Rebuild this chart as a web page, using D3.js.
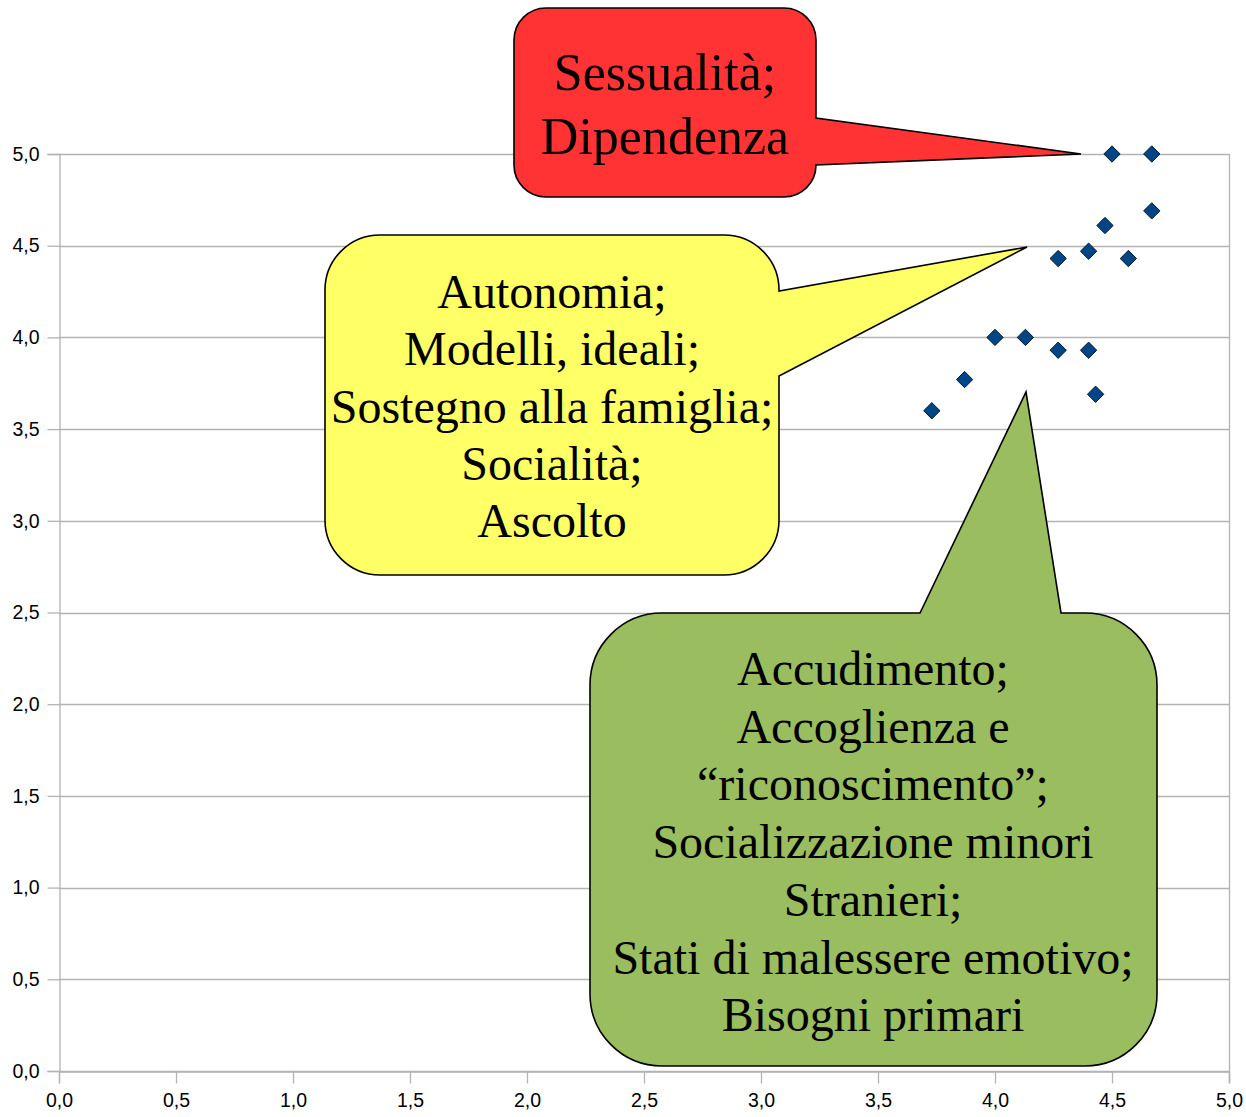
<!DOCTYPE html>
<html>
<head>
<meta charset="utf-8">
<script src="https://cdn.jsdelivr.net/npm/d3@7"></script>
<style>
  html, body { margin: 0; padding: 0; background: #fff; }
  svg { display: block; }
</style>
</head>
<body>
<svg id="chart" width="1246" height="1117"></svg>
<script>
// ---- data ----
const xValues = [4.50, 4.67, 4.67, 4.47, 4.40, 4.27, 4.57, 4.00, 4.13, 4.27, 4.40, 3.87, 3.73, 4.43];
const yValues = [5.00, 5.00, 4.69, 4.61, 4.47, 4.43, 4.43, 4.00, 4.00, 3.93, 3.93, 3.77, 3.60, 3.69];
const xTicks = [0, 0.5, 1, 1.5, 2, 2.5, 3, 3.5, 4, 4.5, 5];
const yTicks = [0, 0.5, 1, 1.5, 2, 2.5, 3, 3.5, 4, 4.5, 5];

const redLines = ["Sessualità;", "Dipendenza"];
const yellowLines = ["Autonomia;", "Modelli, ideali;", "Sostegno alla famiglia;", "Socialità;", "Ascolto"];
const greenLines = ["Accudimento;", "Accoglienza e", "\u201Criconoscimento\u201D;", "Socializzazione minori", "Stranieri;", "Stati di malessere emotivo;", "Bisogni primari"];

// ---- layout ----
const svg = d3.select("#chart");
const plot = { left: 59, right: 1229, top: 154, bottom: 1071 };
const x = d3.scaleLinear().domain([0, 5]).range([plot.left, plot.right]);
const y = d3.scaleLinear().domain([0, 5]).range([plot.bottom, plot.top]);
const fmt = d => d3.format(".1f")(d).replace(".", ",");
const gridColor = "#b3b3b3";

// gridlines
svg.append("g").selectAll("line").data(yTicks).join("line")
  .attr("x1", plot.left).attr("x2", plot.right)
  .attr("y1", d => Math.round(y(d)) + 0.5).attr("y2", d => Math.round(y(d)) + 0.5)
  .attr("stroke", gridColor).attr("stroke-width", 1.3);

// axes
const xAxis = svg.append("g").attr("transform", `translate(0,${Math.round(y(0)) + 0.5})`)
  .call(d3.axisBottom(x).tickValues(xTicks).tickFormat(fmt).tickSize(12).tickPadding(10));
const yAxis = svg.append("g").attr("transform", `translate(${Math.round(x(0)) + 0.5},0)`)
  .call(d3.axisLeft(y).tickValues(yTicks).tickFormat(fmt).tickSize(12).tickPadding(8));
[xAxis, yAxis].forEach(g => {
  g.select(".domain").attr("stroke", gridColor).attr("stroke-width", 1.3);
  g.selectAll(".tick line").attr("stroke", gridColor).attr("stroke-width", 1.3);
  g.selectAll("text").attr("fill", "#000")
    .style("font-family", "'Liberation Sans', Arial, sans-serif")
    .style("font-size", "19.5px");
});
// right border of plot area
svg.append("line")
  .attr("x1", Math.round(x(5)) + 0.5).attr("x2", Math.round(x(5)) + 0.5)
  .attr("y1", y(5)).attr("y2", y(0) + 12)
  .attr("stroke", gridColor).attr("stroke-width", 1.3);

// ---- callouts ----
function calloutPath(b) {
  const { x0, y0, x1, y1, r, side, b0, b1, tx, ty } = b;
  let p = `M${x0 + r},${y0}`;
  if (side === "top") p += `L${b0},${y0}L${tx},${ty}L${b1},${y0}`;
  p += `L${x1 - r},${y0}A${r},${r} 0 0 1 ${x1},${y0 + r}`;
  if (side === "right") p += `L${x1},${b0}L${tx},${ty}L${x1},${b1}`;
  p += `L${x1},${y1 - r}A${r},${r} 0 0 1 ${x1 - r},${y1}`;
  p += `L${x0 + r},${y1}A${r},${r} 0 0 1 ${x0},${y1 - r}`;
  p += `L${x0},${y0 + r}A${r},${r} 0 0 1 ${x0 + r},${y0}Z`;
  return p;
}

const callouts = [
  { fill: "#ff3333", lines: redLines, fs: 52, lh: 64, cx: 665, base: 90,
    x0: 514, y0: 8, x1: 816, y1: 197, r: 32, side: "right", b0: 118, b1: 165, tx: 1081, ty: 154 },
  { fill: "#ffff66", lines: yellowLines, fs: 48, lh: 57.3, cx: 552, base: 308,
    x0: 325, y0: 235, x1: 779, y1: 575, r: 55, side: "right", b0: 291, b1: 376, tx: 1027, ty: 247 },
  { fill: "#99bd5f", lines: greenLines, fs: 48, lh: 57.7, cx: 873, base: 685,
    x0: 590, y0: 613, x1: 1157, y1: 1066, r: 72, side: "top", b0: 920, b1: 1061, tx: 1026, ty: 392 }
];

callouts.forEach(c => {
  const g = svg.append("g");
  g.append("path").attr("d", calloutPath(c))
    .attr("fill", c.fill).attr("stroke", "#000").attr("stroke-width", 1.6).attr("stroke-linejoin", "miter");
  g.append("g").selectAll("text").data(c.lines).join("text")
    .attr("x", c.cx).attr("y", (d, i) => c.base + i * c.lh)
    .attr("text-anchor", "middle")
    .style("font-family", "'Liberation Serif', 'Times New Roman', serif")
    .style("font-size", c.fs + "px")
    .attr("fill", "#000")
    .text(d => d);
});

// ---- points ----
const pts = xValues.map((v, i) => ({ x: v, y: yValues[i] }));
const sym = d3.symbol().type(d3.symbolDiamond2).size(170);
svg.append("g").selectAll("path").data(pts).join("path")
  .attr("transform", d => `translate(${x(d.x)},${y(d.y)})`)
  .attr("d", sym)
  .attr("fill", "#004586").attr("stroke", "#0a1a2a").attr("stroke-width", 1);
</script>
</body>
</html>
